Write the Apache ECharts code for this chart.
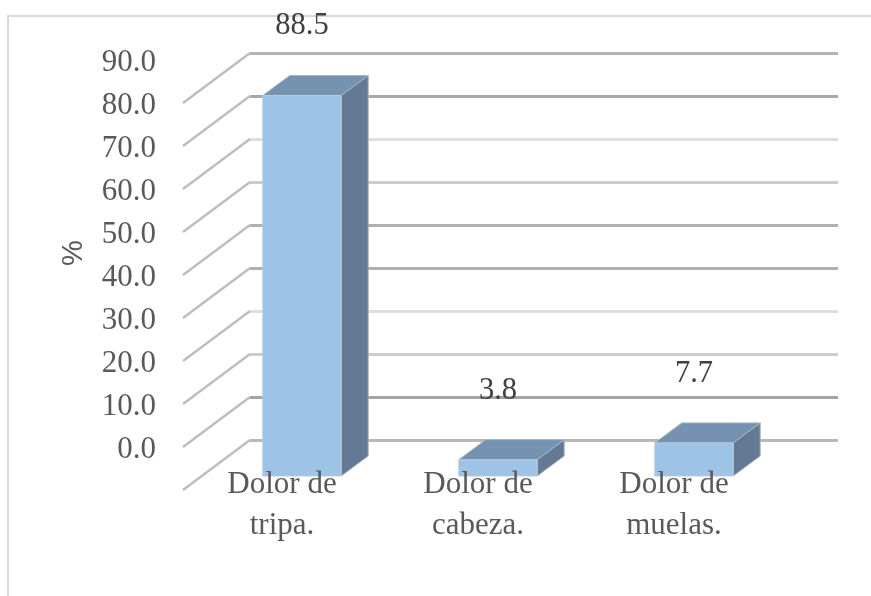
<!DOCTYPE html>
<html>
<head>
<meta charset="utf-8">
<style>html,body{margin:0;padding:0;background:#fff}#c{width:871px;height:596px}</style>
<script src="https://cdn.jsdelivr.net/npm/echarts@6/dist/echarts.min.js"></script>
</head>
<body>
<div id="c"></div>
<script>
const categories = ['Dolor de\ntripa.', 'Dolor de\ncabeza.', 'Dolor de\nmuelas.'];
const values = [88.5, 3.8, 7.7];
const yTicks = [0, 10, 20, 30, 40, 50, 60, 70, 80, 90];
const yTitle = '%';
// wall line tones, from 0 upward
const wallTones = ['#b8b8b8', '#a4a4a4', '#cccccc', '#dedede', '#b0b0b0', '#b0b0b0', '#cccccc', '#dedede', '#a8a8a8', '#b4b4b4'];

const serif = '"Liberation Serif", serif';
const floor = { dx: -67, dy: 50 };
const front = { dx: -46, dy: 36 };
const depth = { dx: 27, dy: -20 };
const chart = echarts.init(document.getElementById('c'), null, { renderer: 'canvas' });

chart.setOption({
  animation: false,
  backgroundColor: '#fff',
  grid: { left: 250, right: 33, top: 53, height: 387, containLabel: false },
  graphic: [
    { type: 'polyline', silent: true, z: 0,
      shape: { points: [[8, 596], [8, 16], [871, 16]] },
      style: { fill: null, stroke: '#d9d9d9', lineWidth: 2 } }
  ],
  xAxis: {
    type: 'category',
    z: 6,
    data: categories,
    axisLine: { show: false },
    axisTick: { show: false },
    axisLabel: {
      interval: 0, margin: 24, color: '#595959',
      fontFamily: serif, fontSize: 31, lineHeight: 41,
      padding: [0, 132, 0, 0]
    }
  },
  yAxis: {
    type: 'value', min: 0, max: 90, interval: 10,
    z: 0,
    name: yTitle, nameLocation: 'middle', nameGap: 162, nameRotate: 90,
    nameTextStyle: { color: '#595959', fontFamily: '"Liberation Sans", sans-serif', fontSize: 29, padding: [0, 13, 0, 0] },
    axisLine: { show: false },
    axisTick: { show: false },
    axisLabel: {
      margin: 94, color: '#595959', fontFamily: serif, fontSize: 31,
      verticalAlign: 'top', lineHeight: 20,
      formatter: v => v.toFixed(1)
    },
    splitLine: { show: true, lineStyle: { color: wallTones, width: 3 } }
  },
  series: [
    {
      type: 'custom', coordinateSystem: 'cartesian2d', silent: true, z: 2,
      data: yTicks.map(v => [0, v]),
      encode: { x: 0, y: 1 },
      renderItem(params, api) {
        const x0 = params.coordSys.x;
        const y0 = api.coord([0, api.value(1)])[1];
        return { type: 'line',
          shape: { x1: x0, y1: y0, x2: x0 + floor.dx, y2: y0 + floor.dy },
          style: { stroke: '#bdbdbd', lineWidth: 2.4 } };
      }
    },
    {
      type: 'custom', coordinateSystem: 'cartesian2d', silent: true, z: 3,
      data: values.map((v, i) => [i, v]),
      encode: { x: 0, y: 1 },
      renderItem(params, api) {
        const i = api.value(0), v = api.value(1);
        const top = api.coord([i, v]);
        const base = api.coord([i, 0]);
        const w = api.size([1, 0])[0] * 0.4;
        const xl = top[0] + front.dx - w / 2, xr = xl + w;
        const yt = top[1] + front.dy, yb = base[1] + front.dy;
        const d = depth;
        const edge = '#a9b4bf';
        return { type: 'group', children: [
          { type: 'polygon',
            shape: { points: [[xr, yt], [xr + d.dx, yt + d.dy], [xr + d.dx, yb + d.dy], [xr, yb]] },
            style: { fill: '#647a94', stroke: edge, lineWidth: 1 } },
          { type: 'polygon',
            shape: { points: [[xl, yt], [xl + d.dx, yt + d.dy], [xr + d.dx, yt + d.dy], [xr, yt]] },
            style: { fill: '#7592b0', stroke: edge, lineWidth: 1 } },
          { type: 'rect',
            shape: { x: xl, y: yt, width: w, height: yb - yt },
            style: { fill: '#9dc3e6', stroke: '#b9c9d8', lineWidth: 1 } },
          { type: 'text', z2: 10,
            style: { x: (xl + xr) / 2, y: yt - 69, text: v.toFixed(1), align: 'center', verticalAlign: 'middle',
              fill: '#404040', font: '30.5px ' + serif } }
        ] };
      }
    }
  ]
});
</script>
</body>
</html>
